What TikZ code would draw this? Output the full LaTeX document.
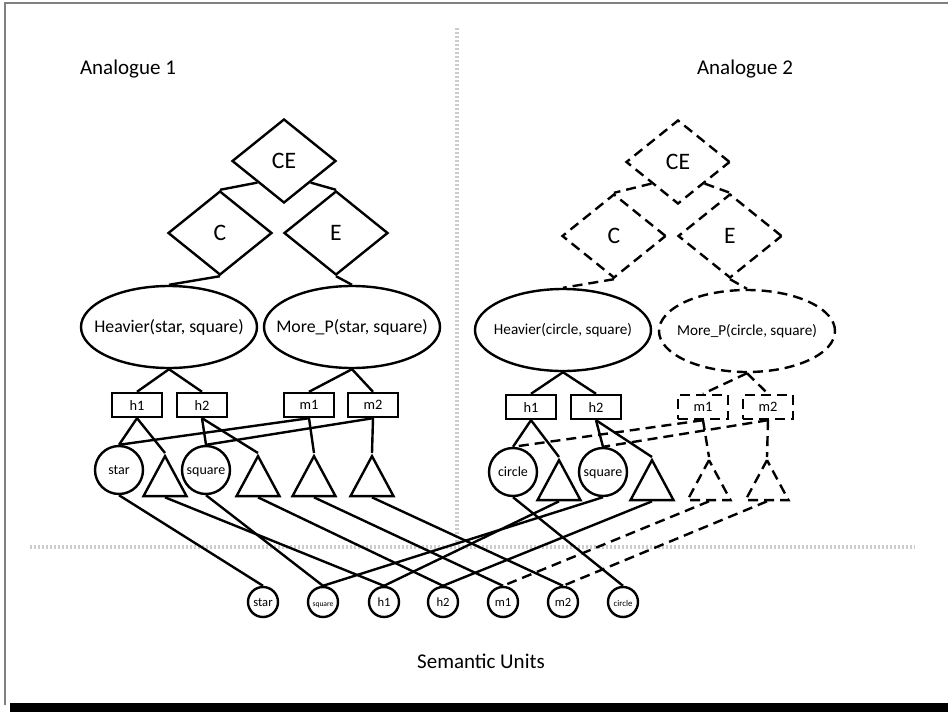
\documentclass[tikz,border=0pt]{standalone}
\usepackage{fontspec}
\setmainfont{Carlito}
\usetikzlibrary{shapes.geometric}

\begin{document}
\begin{tikzpicture}[x=0.5pt,y=-0.5pt,line width=1.2pt,
  dia/.style={draw, diamond, aspect=1, inner sep=0pt, minimum width=52pt, minimum height=42pt, font=\fontsize{11.8}{13}\selectfont},
  pred/.style={draw, ellipse, inner xsep=-20pt, inner ysep=0pt, minimum width=88pt, minimum height=41pt, font=\fontsize{8.9}{10}\selectfont},
  role/.style={draw, rectangle, inner sep=0pt, minimum width=25pt, minimum height=12pt, font=\fontsize{7.2}{8}\selectfont},
  obj/.style={draw, circle, inner sep=0pt, minimum size=24pt, text height=1.2ex, text depth=0.3ex, font=\fontsize{7}{8}\selectfont},
  tri/.style={draw, isosceles triangle, shape border rotate=90, isosceles triangle stretches, inner sep=0pt, minimum width=21.5pt, minimum height=20pt},
  sem/.style={draw, circle, inner sep=0pt, minimum size=15pt, text height=1.2ex, text depth=0.3ex, font=\fontsize{6.3}{7}\selectfont},
  miss/.style={dash pattern=on 5pt off 3pt},
  sep/.style={line width=2pt, black!20, dash pattern=on 1pt off 1pt},
  lbl/.style={font=\fontsize{10.5}{12}\selectfont}]
\useasboundingbox (0,0) rectangle (948,712);

\draw[gray, line width=0.8pt] (5,705) -- (5,3) -- (948,3);
\fill (10,703) rectangle (948,712);

\draw[sep] (457,28) -- (457,545);
\draw[sep] (30,547) -- (915,547);

\node[lbl] (an1) at (128,69) {Analogue 1};
\node[lbl] (an2) at (745,69) {Analogue 2};
\node[lbl] (semu) at (481,661) {Semantic Units};

% analogue 1
\node[dia] (ce1) at (284,161) {CE};
\node[dia] (c1) at (220,233) {C};
\node[dia] (e1) at (336,233) {E};
\node[pred] (hv1) at (169,327) {Heavier(star, square)};
\node[pred] (mp1) at (352,327) {More\_P(star, square)};
\node[role] (h1a) at (137,405) {h1};
\node[role] (h2a) at (202,405) {h2};
\node[role] (m1a) at (309,405) {m1};
\node[role] (m2a) at (373,405) {m2};
\node[obj] (stara) at (119,470) {star};
\node[tri, anchor=apex] (ta) at (165,453) {};
\node[obj] (sqa) at (206,470) {square};
\node[tri, anchor=apex] (tb) at (258,453) {};
\node[tri, anchor=apex] (tc) at (314,453) {};
\node[tri, anchor=apex] (td) at (372,453) {};

% analogue 2
\node[dia, miss] (ce2) at (678,162) {CE};
\node[dia, miss] (c2) at (614,236) {C};
\node[dia, miss] (e2) at (730,236) {E};
\node[pred, font=\fontsize{7.6}{9}\selectfont] (hv2) at (563,330) {Heavier(circle, square)};
\node[pred, miss, font=\fontsize{7.6}{9}\selectfont] (mp2) at (747,331) {More\_P(circle, square)};
\node[role] (h1b) at (531,407) {h1};
\node[role] (h2b) at (596,407) {h2};
\node[role, miss] (m1b) at (703,407) {m1};
\node[role, miss] (m2b) at (768,407) {m2};
\node[obj] (circb) at (513,472) {circle};
\node[tri, anchor=apex] (tA) at (559,457) {};
\node[obj] (sqb) at (603,472) {square};
\node[tri, anchor=apex] (tB) at (652,457) {};
\node[tri, miss, anchor=apex] (tC) at (709,457) {};
\node[tri, miss, anchor=apex] (tD) at (767,457) {};

% semantic units
\node[sem] (sstar) at (263,602) {star};
\node[sem, font=\fontsize{3.8}{4}\selectfont] (ssq) at (323,602) {square};
\node[sem] (sh1) at (384,602) {h1};
\node[sem] (sh2) at (443,602) {h2};
\node[sem] (sm1) at (503,602) {m1};
\node[sem] (sm2) at (563,602) {m2};
\node[sem, font=\fontsize{4.4}{5}\selectfont] (scirc) at (623,602) {circle};

\draw (ce1.south west) -- (c1.north);
\draw (ce1.south east) -- (e1.north);
\draw (c1.south) -- (hv1.north);
\draw (e1.south) -- (mp1.north);
\draw (hv1.south) -- (h1a.north);
\draw (hv1.south) -- (h2a.north);
\draw (mp1.south) -- (m1a.north);
\draw (mp1.south) -- (m2a.north);
\draw (h1a.south) -- (stara.north);
\draw (h1a.south) -- (ta.apex);
\draw (h2a.south) -- (sqa.north);
\draw (h2a.south) -- (tb.apex);
\draw (m1a.south) -- (stara.north);
\draw (m1a.south) -- (tc.apex);
\draw (m2a.south) -- (sqa.north);
\draw (m2a.south) -- (td.apex);
\draw (stara.south) -- (sstar.north);
\draw (ta.lower side) -- (sh1.north);
\draw (sqa.south) -- (ssq.north);
\draw (tb.lower side) -- (sh2.north);
\draw (tc.lower side) -- (sm1.north);
\draw (td.lower side) -- (sm2.north);

\draw[miss] (ce2.south west) -- (c2.north);
\draw[miss] (ce2.south east) -- (e2.north);
\draw[miss] (c2.south) -- (hv2.north);
\draw[miss] (e2.south) -- (mp2.north);
\draw (hv2.south) -- (h1b.north);
\draw (hv2.south) -- (h2b.north);
\draw[miss] (mp2.south) -- (m1b.north);
\draw[miss] (mp2.south) -- (m2b.north);
\draw (h1b.south) -- (circb.north);
\draw (h1b.south) -- (tA.apex);
\draw (h2b.south) -- (sqb.north);
\draw (h2b.south) -- (tB.apex);
\draw[miss] (m1b.south) -- (circb.north);
\draw[miss] (m1b.south) -- (tC.apex);
\draw[miss] (m2b.south) -- (sqb.north);
\draw[miss] (m2b.south) -- (tD.apex);
\draw (circb.south) -- (scirc.north);
\draw (tA.lower side) -- (sh1.north);
\draw (sqb.south) -- (ssq.north);
\draw (tB.lower side) -- (sh2.north);
\draw[miss] (tC.lower side) -- (sm1.north);
\draw[miss] (tD.lower side) -- (sm2.north);
\end{tikzpicture}
\end{document}
